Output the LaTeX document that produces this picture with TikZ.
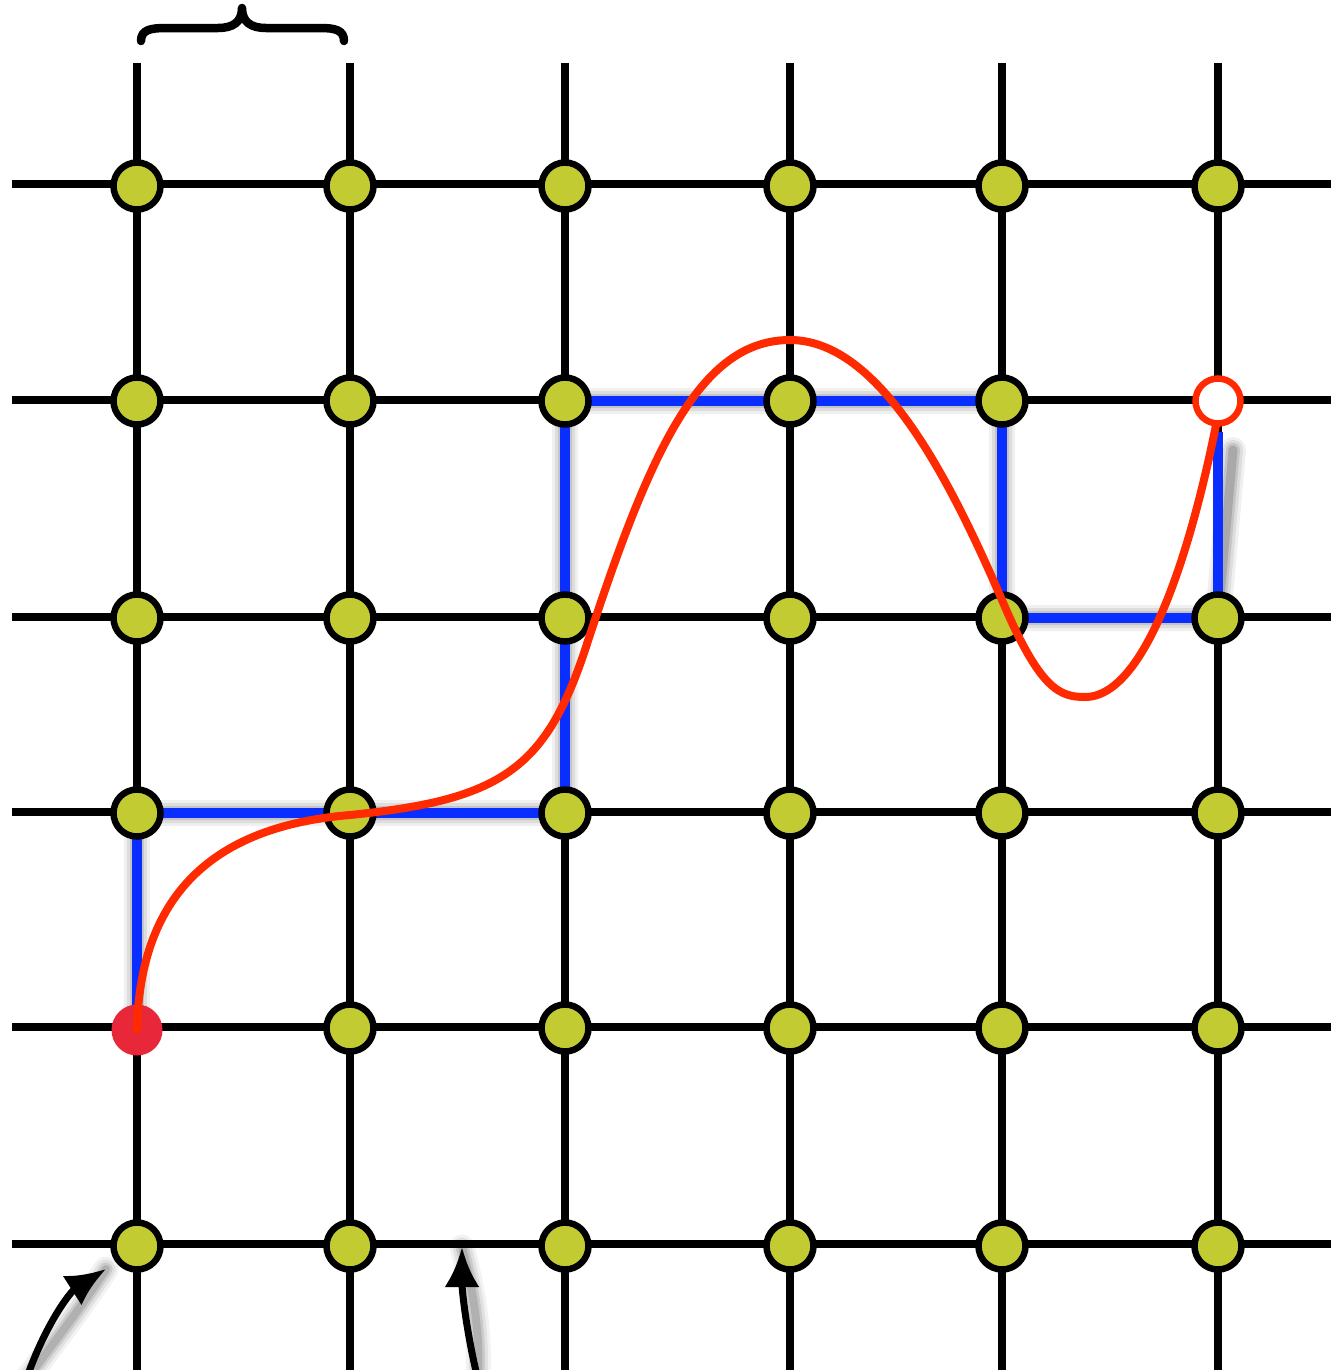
\documentclass[tikz,border=0pt]{standalone}
\usetikzlibrary{arrows.meta}
\definecolor{nodeyellow}{HTML}{C3CB33}
\definecolor{pathblue}{HTML}{0A2EFF}
\definecolor{curvered}{HTML}{FF2A00}
\definecolor{dotred}{HTML}{E8283A}
\tikzset{
  gridline/.style={line width=0.17cm, black},
  gnode/.style={circle, draw=black, fill=nodeyellow, line width=0.13cm, minimum size=0.94cm, inner sep=0pt},
  startnode/.style={circle, fill=dotred, minimum size=1.02cm, inner sep=0pt},
  endnode/.style={circle, draw=curvered, fill=white, line width=0.13cm, minimum size=0.9cm, inner sep=0pt},
  bluepath/.style={line width=0.2cm, pathblue, line join=miter},
  redcurve/.style={line width=0.16cm, curvered, line cap=round},
  shadowline/.style={black, line join=round, line cap=round},
  pointer/.style={line width=0.14cm, black, -{Latex[length=0.8cm,width=0.7cm]}},
  bracestyle/.style={line width=0.17cm, black, line cap=round, line join=round},
}
\begin{document}
\begin{tikzpicture}[x=0.02cm, y=-0.02cm]
\useasboundingbox (0,0) rectangle (1331,1370);
\clip (0,0) rectangle (1331,1370);
% named positions
\foreach \xx [count=\i] in {137,350,565,790,1002,1218}
  \foreach \yy [count=\j] in {186,401,618,813,1028,1246}
    \coordinate (p-\i-\j) at (\xx,\yy);
% grid lines
\foreach \xx in {137,350,565,790,1002,1218}
  \draw[gridline] (\xx,63) -- (\xx,1380);
\foreach \yy in {184,400,617,812,1027,1244}
  \draw[gridline] (12,\yy) -- (1345,\yy);
% blue path shadow
\foreach \w/\o in {0.52/0.06,0.40/0.08,0.28/0.11,0.18/0.14}
  \draw[shadowline, line width=\w cm, opacity=\o, xshift=0.3cm, yshift=-0.28cm]
    (p-1-5) -- (p-1-4) -- (p-3-4) -- (p-3-2) -- (p-5-2) -- (p-5-3) -- (p-6-3) -- (1218,436);
% blue path
\draw[bluepath] (p-1-5) -- (p-1-4) -- (p-3-4) -- (p-3-2) -- (p-5-2) -- (p-5-3) -- (p-6-3) -- (1218,432);
% yellow nodes
\foreach \i in {1,...,6}
  \foreach \j in {1,...,6}{
    \ifnum\i\j=15\relax\else\ifnum\i\j=62\relax\else
      \node[gnode] (n-\i-\j) at (p-\i-\j) {};
    \fi\fi
  }
% start node
\node[startnode] (start) at (137,1030) {};
% red curve
\draw[redcurve] (start.center) .. controls (140,880) and (230,825) .. (350,815)
  .. controls (500,800) and (545,770) .. (585,650)
  .. controls (650,450) and (700,340) .. (790,340)
  .. controls (880,340) and (950,480) .. (1002,600)
  .. controls (1040,690) and (1060,697) .. (1085,697)
  .. controls (1150,697) and (1195,530) .. (1216,425);
% end node
\node[endnode] (end) at (1218,401) {};
% brace
\draw[bracestyle] (141,41) .. controls (141,30) and (150,28) .. (166,28) -- (218,28)
  .. controls (233,28) and (242,22) .. (242,8)
  .. controls (242,22) and (251,28) .. (266,28) -- (320,28)
  .. controls (335,28) and (344,30) .. (344,41);
% pointer arrows
\coordinate (a1s) at (26,1380);
\coordinate (a1e) at (106,1269);
\coordinate (a2s) at (478,1380);
\coordinate (a2e) at (462,1247);
\foreach \w/\o in {0.5/0.05,0.38/0.07,0.26/0.10,0.16/0.12}{
  \draw[shadowline, line width=\w cm, opacity=\o, xshift=0.28cm, yshift=-0.22cm]
    (a1s) .. controls (45,1325) and (70,1292) .. (a1e);
  \draw[shadowline, line width=\w cm, opacity=\o, xshift=0.28cm, yshift=-0.22cm]
    (a2s) .. controls (466,1330) and (462,1290) .. (a2e);
}
\draw[pointer] (a1s) .. controls (45,1325) and (70,1292) .. (a1e);
\draw[pointer] (a2s) .. controls (466,1330) and (462,1290) .. (a2e);
\end{tikzpicture}
\end{document}
